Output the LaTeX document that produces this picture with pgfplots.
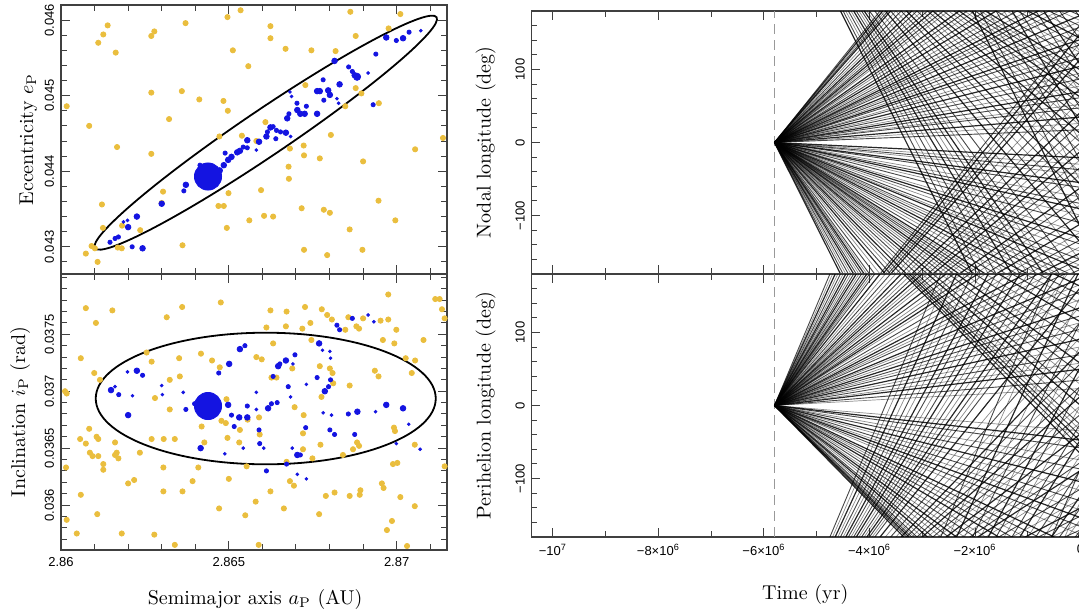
\documentclass[border=0pt]{standalone}
\usepackage{fontspec}
\usepackage{pgfplots}
\pgfplotsset{compat=1.18}
\newfontfamily\tf{Liberation Sans}
\definecolor{ylw}{RGB}{234,190,62}
\definecolor{blu}{RGB}{20,20,225}

\pgfplotsset{
  panel/.style={scale only axis, anchor=south west,
    axis line style={line width=0.7pt, black!75},
    tick style={black!75, line width=0.5pt},
    ticklabel style={font=\tf\fontsize{6.5}{7}\selectfont},
    yticklabel style={rotate=90, anchor=south},
    scaled ticks=false, clip=true},
  ydot/.style={ylw, only marks, mark=*, mark size=1.3pt},
  bdot/.style={blu, only marks, mark=*},
  traj/.style={black, line width=0.45pt, opacity=0.72},
  trajl/.style={black, line width=0.35pt, opacity=0.45},
  trajd/.style={black, line width=0.6pt, opacity=0.85},
  tzero/.style={gray!80, line width=0.9pt, dash pattern=on 5pt off 3pt},
}

\begin{document}
\begin{tikzpicture}
\useasboundingbox (0,0) rectangle (539.5pt,307pt);

% ---------- eccentricity vs semimajor axis
\begin{axis}[panel, at={(30.5pt,170pt)}, width=193pt, height=134.5pt,
  xmin=2.86, xmax=2.8715, ymin=0.04264, ymax=0.0462,
  xtick={2.86,2.865,2.87}, xticklabels={},
  minor xtick={2.861,2.862,2.863,2.864,2.866,2.867,2.868,2.869,2.871},
  ytick={0.043,0.044,0.045,0.046}, yticklabels={0.043,0.044,0.045,0.046},
  minor ytick={0.0428,0.0432,0.0434,0.0436,0.0438,0.0442,0.0444,0.0446,0.0448,0.0452,0.0454,0.0456,0.0458},
  ylabel={Eccentricity $e_\mathrm{P}$},
  ylabel style={at={(axis description cs:-0.0725,0.5)}, anchor=base}]
\addplot[ydot] coordinates {
(2.86017,0.04486)(2.86084,0.04460)(2.86111,0.04570)(2.86126,0.04581)(2.86139,0.04593)
(2.86163,0.04557)(2.86167,0.04432)(2.86269,0.04423)(2.86269,0.04504)(2.86269,0.04579)
(2.86278,0.04585)(2.86322,0.04469)(2.86360,0.04506)(2.86371,0.04596)(2.86412,0.04495)
(2.86472,0.04446)(2.86484,0.04493)(2.86496,0.04604)(2.86497,0.04480)(2.86512,0.04560)
(2.86535,0.04613)(2.86539,0.04447)(2.86558,0.04539)(2.86582,0.04440)(2.86609,0.04465)
(2.86624,0.04592)(2.86624,0.04576)(2.86669,0.04562)(2.86682,0.04430)(2.86678,0.04406)
(2.86679,0.04390)(2.86723,0.04434)(2.86724,0.04421)(2.86728,0.04514)(2.86746,0.04560)
(2.86771,0.04417)(2.86804,0.04448)(2.86818,0.04559)(2.86847,0.04486)(2.86862,0.04611)
(2.86878,0.04579)(2.86878,0.04510)(2.86895,0.04503)(2.86900,0.04413)(2.86947,0.04490)
(2.86976,0.04589)(2.87011,0.04608)(2.87055,0.04429)(2.87138,0.04444)(2.86996,0.04335)
(2.86946,0.04361)(2.86860,0.04323)(2.86898,0.04296)(2.86801,0.04345)(2.86783,0.04349)
(2.86793,0.04289)(2.86724,0.04296)(2.86717,0.04351)(2.86632,0.04340)(2.86605,0.04341)
(2.86596,0.04375)(2.86561,0.04335)(2.86499,0.04371)(2.86494,0.04325)(2.86485,0.04354)
(2.86469,0.04354)(2.86362,0.04302)(2.86304,0.04373)(2.86300,0.04358)(2.86236,0.04322)
(2.86181,0.04298)(2.86169,0.04299)(2.86122,0.04356)(2.86125,0.04325)(2.86091,0.04301)
(2.86074,0.04291)(2.86101,0.04298)(2.86109,0.04280)(2.86172,0.04262)(2.86182,0.04328)
};
\addplot[bdot, mark size=0.7pt] coordinates {
(2.86186,0.04333)(2.86198,0.04335)(2.86582,0.04428)(2.86684,0.04446)(2.86682,0.04505)
(2.86687,0.04499)(2.86822,0.04496)(2.86827,0.04490)(2.86915,0.04530)(2.87072,0.04586)
};
\addplot[bdot, mark size=1.05pt] coordinates {
(2.86146,0.04306)(2.86161,0.04311)(2.86171,0.04313)(2.86212,0.04300)(2.86366,0.04374)
(2.86414,0.04408)(2.86489,0.04424)(2.86543,0.04432)(2.86555,0.04431)(2.86632,0.04459)
(2.86615,0.04452)(2.86640,0.04443)(2.86642,0.04454)(2.86654,0.04452)(2.86679,0.04476)
(2.86703,0.04490)(2.86731,0.04486)(2.86781,0.04521)(2.86783,0.04494)(2.86857,0.04538)
(2.86868,0.04532)(2.86930,0.04488)(2.86938,0.04555)(2.86999,0.04573)(2.87037,0.04584)
};
\addplot[bdot, mark size=1.4pt] coordinates {
(2.86200,0.04326)(2.86226,0.04340)(2.86243,0.04298)(2.86300,0.04357)(2.86372,0.04382)
(2.86473,0.04401)(2.86485,0.04408)(2.86498,0.04415)(2.86508,0.04419)(2.86525,0.04425)
(2.86533,0.04427)(2.86555,0.04441)(2.86590,0.04439)(2.86612,0.04446)(2.86624,0.04458)
(2.86670,0.04451)(2.86674,0.04470)(2.86704,0.04481)(2.86713,0.04476)(2.86726,0.04476)
(2.86763,0.04476)(2.86763,0.04506)(2.86771,0.04506)(2.86796,0.04507)(2.86801,0.04501)
(2.86815,0.04546)(2.86830,0.04515)(2.86875,0.04527)(2.86969,0.04577)(2.87019,0.04576)
};
\addplot[bdot, mark size=1.8pt] coordinates {(2.86882,0.04525)};
\addplot[bdot, mark size=6.8pt] coordinates {(2.86438,0.04393)};
\draw[black, line width=0.9pt] (axis cs:2.8661,0.04451) ellipse [x radius=103.1pt, y radius=11.4pt, rotate=34.06];
\end{axis}

% ---------- inclination vs semimajor axis
\begin{axis}[panel, at={(30.5pt,32pt)}, width=193pt, height=138pt,
  xmin=2.86, xmax=2.8715, ymin=0.035605, ymax=0.03803,
  xtick={2.86,2.865,2.87}, xticklabels={2.86,2.865,2.87},
  minor xtick={2.861,2.862,2.863,2.864,2.866,2.867,2.868,2.869,2.871},
  ytick={0.036,0.0365,0.037,0.0375}, yticklabels={0.036,0.0365,0.037,0.0375},
  minor ytick={0.0357,0.0358,0.0359,0.0361,0.0362,0.0363,0.0364,0.0366,0.0367,0.0368,0.0369,0.0371,0.0372,0.0373,0.0374,0.0376,0.0377,0.0378,0.0379,0.0380},
  ylabel={Inclination $i_\mathrm{P}$ (rad)},
  ylabel style={at={(axis description cs:-0.093,0.5)}, anchor=base},
  xlabel={Semimajor axis $a_\mathrm{P}$ (AU)},
  xlabel style={at={(axis description cs:0.503,-0.196)}, anchor=base}]
\addplot[ydot] coordinates {
(2.86074,0.03773)(2.86104,0.03760)(2.86153,0.03771)(2.86315,0.03765)(2.86361,0.03774)
(2.86476,0.03778)(2.86624,0.03771)(2.86672,0.03770)(2.86727,0.03774)(2.86777,0.03772)
(2.86793,0.03767)(2.86807,0.03763)(2.86743,0.03760)(2.86856,0.03765)(2.86900,0.03764)
(2.86880,0.03757)(2.86888,0.03755)(2.86975,0.03785)(2.86975,0.03763)(2.87115,0.03781)
(2.87128,0.03781)(2.87135,0.03772)(2.87143,0.03764)(2.86999,0.03754)(2.86952,0.03762)
(2.86612,0.03756)(2.86670,0.03757)(2.86719,0.03755)(2.86847,0.03754)(2.86059,0.03729)
(2.86099,0.03716)(2.86270,0.03726)(2.86352,0.03729)(2.86417,0.03733)(2.86450,0.03727)
(2.86473,0.03721)(2.86582,0.03730)(2.86598,0.03728)(2.86627,0.03712)(2.86632,0.03742)
(2.86689,0.03720)(2.86746,0.03745)(2.86771,0.03722)(2.86801,0.03720)(2.86959,0.03745)
(2.86993,0.03742)(2.87027,0.03729)(2.87055,0.03727)(2.87080,0.03745)(2.87045,0.03716)
(2.86935,0.03718)(2.86946,0.03713)(2.86860,0.03705)(2.86012,0.03700)(2.86017,0.03698)
(2.86280,0.03694)(2.86324,0.03710)(2.86354,0.03713)(2.86324,0.03684)(2.86493,0.03693)
(2.86478,0.03674)(2.86491,0.03672)(2.86556,0.03675)(2.86590,0.03677)(2.86642,0.03712)
(2.86696,0.03686)(2.86776,0.03695)(2.86809,0.03716)(2.86811,0.03707)(2.86723,0.03679)
(2.86992,0.03668)(2.86995,0.03665)(2.86084,0.03667)(2.86106,0.03660)(2.86111,0.03658)
(2.86057,0.03658)(2.86074,0.03654)(2.86086,0.03646)(2.86094,0.03643)(2.86111,0.03643)
(2.86161,0.03655)(2.86161,0.03644)(2.86166,0.03646)(2.86171,0.03641)(2.86126,0.03636)
(2.86126,0.03631)(2.86015,0.03633)(2.86235,0.03646)(2.86270,0.03658)(2.86306,0.03658)
(2.86339,0.03658)(2.86419,0.03669)(2.86427,0.03655)(2.86496,0.03659)(2.86531,0.03655)
(2.86721,0.03663)(2.86773,0.03653)(2.86749,0.03641)(2.86721,0.03649)(2.86840,0.03644)
(2.86870,0.03649)(2.86882,0.03655)(2.86888,0.03652)(2.87054,0.03653)(2.87143,0.03634)
(2.87002,0.03637)(2.86989,0.03636)(2.86059,0.03609)(2.86017,0.03587)(2.86047,0.03575)
(2.86108,0.03592)(2.86181,0.03575)(2.86200,0.03619)(2.86218,0.03622)(2.86278,0.03574)
(2.86305,0.03612)(2.86305,0.03633)(2.86362,0.03612)(2.86392,0.03621)(2.86409,0.03633)
(2.86500,0.03623)(2.86471,0.03597)(2.86549,0.03591)(2.86580,0.03603)(2.86589,0.03565)
(2.86553,0.03634)(2.86624,0.03612)(2.86664,0.03597)(2.86672,0.03638)(2.86682,0.03621)
(2.86694,0.03617)(2.86769,0.03592)(2.86789,0.03608)(2.86815,0.03611)(2.86860,0.03608)
(2.86890,0.03609)(2.86892,0.03613)(2.86956,0.03619)(2.86961,0.03615)(2.86971,0.03578)
(2.86986,0.03586)(2.87011,0.03607)(2.87054,0.03599)(2.87031,0.03564)(2.86339,0.03565)
(2.86255,0.03734)(2.86116,0.03710)(2.86533,0.03666)(2.86592,0.03662)
};
\addplot[bdot, mark size=0.7pt] coordinates {
(2.86161,0.03704)(2.86213,0.03696)(2.86198,0.03717)(2.86300,0.03705)(2.86302,0.03697)
(2.86364,0.03699)(2.86488,0.03645)(2.86543,0.03650)(2.86582,0.03684)(2.86582,0.03699)
(2.86604,0.03650)(2.86691,0.03724)(2.86684,0.03695)(2.86689,0.03650)(2.86704,0.03627)
(2.86731,0.03623)(2.86731,0.03706)(2.86779,0.03736)(2.86803,0.03729)(2.86801,0.03735)
(2.86781,0.03681)(2.86806,0.03679)(2.86915,0.03767)(2.86932,0.03761)(2.86937,0.03682)
(2.86999,0.03654)(2.87036,0.03671)(2.87070,0.03649)
};
\addplot[bdot, mark size=1.05pt] coordinates {
(2.86172,0.03697)(2.86243,0.03714)(2.86372,0.03684)(2.86398,0.03689)(2.86470,0.03716)
(2.86508,0.03679)(2.86516,0.03669)(2.86548,0.03740)(2.86555,0.03687)(2.86590,0.03666)
(2.86592,0.03654)(2.86612,0.03630)(2.86627,0.03689)(2.86632,0.03713)(2.86652,0.03724)
(2.86697,0.03732)(2.86644,0.03690)(2.86677,0.03704)(2.86672,0.03636)(2.86713,0.03644)
(2.86729,0.03668)(2.86763,0.03712)(2.86797,0.03704)(2.86803,0.03710)(2.86801,0.03666)
(2.86815,0.03662)(2.86822,0.03758)(2.86830,0.03754)(2.86868,0.03764)(2.86856,0.03680)
(2.86875,0.03662)
};
\addplot[bdot, mark size=1.4pt] coordinates {
(2.86149,0.03701)(2.86200,0.03679)(2.86226,0.03718)(2.86416,0.03650)(2.86501,0.03724)
(2.86498,0.03688)(2.86531,0.03677)(2.86533,0.03737)(2.86555,0.03677)(2.86617,0.03685)
(2.86647,0.03722)(2.86670,0.03727)(2.86704,0.03644)(2.86769,0.03742)(2.86786,0.03700)
(2.86883,0.03682)(2.86969,0.03688)(2.87019,0.03685)
};
\addplot[bdot, mark size=6.8pt] coordinates {(2.86438,0.03687)};
\draw[black, line width=0.9pt] (axis cs:2.8661,0.036936) ellipse [x radius=85pt, y radius=32.9pt];
\end{axis}

% ---------- nodal longitude vs time
\begin{axis}[panel, at={(265.85pt,170pt)}, width=285pt, height=131.5pt,
  xmin=-10.4e6, xmax=0.4e6, ymin=-180, ymax=180, unbounded coords=jump,
  xtick={-1e7,-8e6,-6e6,-4e6,-2e6,0}, xticklabels={},
  minor xtick={-9e6,-7e6,-5e6,-3e6,-1e6},
  ytick={-100,0,100}, yticklabels={−100,0,100},
  minor ytick={-160,-140,-120,-80,-60,-40,-20,20,40,60,80,120,140,160},
  ylabel={Nodal longitude (deg)},
  ylabel style={at={(axis description cs:-0.072,0.5)}, anchor=base}]
\addplot[tzero] coordinates {(-5.8e6,-180)(-5.8e6,180)};
% decreasing angle
\addplot[trajd] coordinates {(-5.8e6,0)(-4.55e6,-180)(-4.55e6,nan)(-4.55e6,180)(-2.05e6,-180)(-2.05e6,nan)(-2.05e6,180)(0.45e6,-180)};
\addplot[traj] coordinates {(-5.8e6,0)(-4.5e6,-180)(-4.5e6,nan)(-4.5e6,180)(-1.9e6,-180)(-1.9e6,nan)(-1.9e6,180)(0.7e6,-180)};
\addplot[trajl] coordinates {(-5.8e6,0)(-4.45e6,-180)(-4.45e6,nan)(-4.45e6,180)(-1.75e6,-180)(-1.75e6,nan)(-1.75e6,180)(0.95e6,-180)};
\addplot[traj] coordinates {(-5.8e6,0)(-4.4e6,-180)(-4.4e6,nan)(-4.4e6,180)(-1.6e6,-180)(-1.6e6,nan)(-1.6e6,180)(1.2e6,-180)};
\addplot[trajl] coordinates {(-5.8e6,0)(-4.35e6,-180)(-4.35e6,nan)(-4.35e6,180)(-1.45e6,-180)(-1.45e6,nan)(-1.45e6,180)(1.45e6,-180)};
\addplot[trajd] coordinates {(-5.8e6,0)(-4.3e6,-180)(-4.3e6,nan)(-4.3e6,180)(-1.3e6,-180)(-1.3e6,nan)(-1.3e6,180)(1.7e6,-180)};
\addplot[traj] coordinates {(-5.8e6,0)(-4.25e6,-180)(-4.25e6,nan)(-4.25e6,180)(-1.15e6,-180)(-1.15e6,nan)(-1.15e6,180)(1.95e6,-180)};
\addplot[trajl] coordinates {(-5.8e6,0)(-4.2e6,-180)(-4.2e6,nan)(-4.2e6,180)(-1.0e6,-180)(-1.0e6,nan)(-1.0e6,180)(2.2e6,-180)};
\addplot[traj] coordinates {(-5.8e6,0)(-4.15e6,-180)(-4.15e6,nan)(-4.15e6,180)(-0.85e6,-180)(-0.85e6,nan)(-0.85e6,180)(2.45e6,-180)};
\addplot[trajd] coordinates {(-5.8e6,0)(-4.1e6,-180)(-4.1e6,nan)(-4.1e6,180)(-0.7e6,-180)(-0.7e6,nan)(-0.7e6,180)(2.7e6,-180)};
\addplot[trajl] coordinates {(-5.8e6,0)(-4.05e6,-180)(-4.05e6,nan)(-4.05e6,180)(-0.55e6,-180)(-0.55e6,nan)(-0.55e6,180)(2.95e6,-180)};
\addplot[traj] coordinates {(-5.8e6,0)(-4.0e6,-180)(-4.0e6,nan)(-4.0e6,180)(-0.4e6,-180)(-0.4e6,nan)(-0.4e6,180)(3.2e6,-180)};
\addplot[traj] coordinates {(-5.8e6,0)(-3.9e6,-180)(-3.9e6,nan)(-3.9e6,180)(-0.1e6,-180)(-0.1e6,nan)(-0.1e6,180)(3.7e6,-180)};
\addplot[trajl] coordinates {(-5.8e6,0)(-3.8e6,-180)(-3.8e6,nan)(-3.8e6,180)(0.2e6,-180)};
\addplot[trajd] coordinates {(-5.8e6,0)(-3.7e6,-180)(-3.7e6,nan)(-3.7e6,180)(0.5e6,-180)};
\addplot[traj] coordinates {(-5.8e6,0)(-3.6e6,-180)(-3.6e6,nan)(-3.6e6,180)(0.8e6,-180)};
\addplot[trajl] coordinates {(-5.8e6,0)(-3.5e6,-180)(-3.5e6,nan)(-3.5e6,180)(1.1e6,-180)};
\addplot[traj] coordinates {(-5.8e6,0)(-3.4e6,-180)(-3.4e6,nan)(-3.4e6,180)(1.4e6,-180)};
\addplot[trajd] coordinates {(-5.8e6,0)(-3.3e6,-180)(-3.3e6,nan)(-3.3e6,180)(1.7e6,-180)};
\addplot[trajl] coordinates {(-5.8e6,0)(-3.2e6,-180)(-3.2e6,nan)(-3.2e6,180)(2.0e6,-180)};
\addplot[traj] coordinates {(-5.8e6,0)(-3.1e6,-180)(-3.1e6,nan)(-3.1e6,180)(2.3e6,-180)};
\addplot[trajl] coordinates {(-5.8e6,0)(-3.0e6,-180)(-3.0e6,nan)(-3.0e6,180)(2.6e6,-180)};
\addplot[traj] coordinates {(-5.8e6,0)(-2.9e6,-180)(-2.9e6,nan)(-2.9e6,180)(2.9e6,-180)};
\addplot[trajd] coordinates {(-5.8e6,0)(-2.8e6,-180)(-2.8e6,nan)(-2.8e6,180)(3.2e6,-180)};
\addplot[trajl] coordinates {(-5.8e6,0)(-2.7e6,-180)(-2.7e6,nan)(-2.7e6,180)(3.5e6,-180)};
\addplot[traj] coordinates {(-5.8e6,0)(-2.6e6,-180)(-2.6e6,nan)(-2.6e6,180)(3.8e6,-180)};
\addplot[trajl] coordinates {(-5.8e6,0)(-2.5e6,-180)(-2.5e6,nan)(-2.5e6,180)(4.1e6,-180)};
\addplot[traj] coordinates {(-5.8e6,0)(-2.4e6,-180)(-2.4e6,nan)(-2.4e6,180)(4.4e6,-180)};
\addplot[trajd] coordinates {(-5.8e6,0)(-2.3e6,-180)(-2.3e6,nan)(-2.3e6,180)(4.7e6,-180)};
\addplot[trajl] coordinates {(-5.8e6,0)(-2.2e6,-180)(-2.2e6,nan)(-2.2e6,180)(5.0e6,-180)};
\addplot[traj] coordinates {(-5.8e6,0)(-2.1e6,-180)(-2.1e6,nan)(-2.1e6,180)(5.3e6,-180)};
\addplot[traj] coordinates {(-5.8e6,0)(-2.0e6,-180)(-2.0e6,nan)(-2.0e6,180)(5.6e6,-180)};
\addplot[trajl] coordinates {(-5.8e6,0)(-1.9e6,-180)(-1.9e6,nan)(-1.9e6,180)(5.9e6,-180)};
\addplot[trajd] coordinates {(-5.8e6,0)(-1.8e6,-180)(-1.8e6,nan)(-1.8e6,180)(6.2e6,-180)};
\addplot[traj] coordinates {(-5.8e6,0)(-1.6e6,-180)(-1.6e6,nan)(-1.6e6,180)(6.8e6,-180)};
\addplot[trajl] coordinates {(-5.8e6,0)(-1.4e6,-180)(-1.4e6,nan)(-1.4e6,180)(7.4e6,-180)};
\addplot[traj] coordinates {(-5.8e6,0)(-1.2e6,-180)(-1.2e6,nan)(-1.2e6,180)(8.0e6,-180)};
\addplot[trajd] coordinates {(-5.8e6,0)(-1.0e6,-180)(-1.0e6,nan)(-1.0e6,180)(8.6e6,-180)};
\addplot[trajl] coordinates {(-5.8e6,0)(-0.8e6,-180)(-0.8e6,nan)(-0.8e6,180)(9.2e6,-180)};
\addplot[traj] coordinates {(-5.8e6,0)(-0.6e6,-180)(-0.6e6,nan)(-0.6e6,180)(9.8e6,-180)};
\addplot[trajl] coordinates {(-5.8e6,0)(-0.4e6,-180)(-0.4e6,nan)(-0.4e6,180)(10.4e6,-180)};
\addplot[traj] coordinates {(-5.8e6,0)(-0.2e6,-180)(-0.2e6,nan)(-0.2e6,180)(11.0e6,-180)};
\addplot[trajd] coordinates {(-5.8e6,0)(0.2e6,-180)};
\addplot[trajl] coordinates {(-5.8e6,0)(0.4e6,-180)};
\addplot[traj] coordinates {(-5.8e6,0)(0.7e6,-180)};
\addplot[trajl] coordinates {(-5.8e6,0)(1.2e6,-180)};
\addplot[traj] coordinates {(-5.8e6,0)(1.7e6,-180)};
\addplot[trajd] coordinates {(-5.8e6,0)(2.2e6,-180)};
\addplot[trajl] coordinates {(-5.8e6,0)(2.7e6,-180)};
\addplot[traj] coordinates {(-5.8e6,0)(3.7e6,-180)};
\addplot[trajl] coordinates {(-5.8e6,0)(4.7e6,-180)};
\addplot[trajd] coordinates {(-5.8e6,0)(5.7e6,-180)};
\addplot[traj] coordinates {(-5.8e6,0)(6.7e6,-180)};
\addplot[trajl] coordinates {(-5.8e6,0)(8.2e6,-180)};
\addplot[traj] coordinates {(-5.8e6,0)(11.2e6,-180)};
\addplot[trajd] coordinates {(-5.8e6,0)(13.2e6,-180)};
\addplot[trajl] coordinates {(-5.8e6,0)(18.2e6,-180)};
\addplot[traj] coordinates {(-5.8e6,0)(22.2e6,-180)};
\addplot[trajl] coordinates {(-5.8e6,0)(29.2e6,-180)};
\addplot[trajd] coordinates {(-5.8e6,0)(44.2e6,-180)};
% increasing angle
\addplot[traj] coordinates {(-5.8e6,0)(-3.8e6,180)(-3.8e6,nan)(-3.8e6,-180)(0.2e6,180)};
\addplot[trajd] coordinates {(-5.8e6,0)(-3.75e6,180)(-3.75e6,nan)(-3.75e6,-180)(0.35e6,180)};
\addplot[trajl] coordinates {(-5.8e6,0)(-3.7e6,180)(-3.7e6,nan)(-3.7e6,-180)(0.5e6,180)};
\addplot[traj] coordinates {(-5.8e6,0)(-3.65e6,180)(-3.65e6,nan)(-3.65e6,-180)(0.65e6,180)};
\addplot[trajd] coordinates {(-5.8e6,0)(-3.6e6,180)(-3.6e6,nan)(-3.6e6,-180)(0.8e6,180)};
\addplot[trajl] coordinates {(-5.8e6,0)(-3.5e6,180)(-3.5e6,nan)(-3.5e6,-180)(1.1e6,180)};
\addplot[traj] coordinates {(-5.8e6,0)(-3.4e6,180)(-3.4e6,nan)(-3.4e6,-180)(1.4e6,180)};
\addplot[trajl] coordinates {(-5.8e6,0)(-3.3e6,180)(-3.3e6,nan)(-3.3e6,-180)(1.7e6,180)};
\addplot[trajd] coordinates {(-5.8e6,0)(-3.2e6,180)(-3.2e6,nan)(-3.2e6,-180)(2.0e6,180)};
\addplot[traj] coordinates {(-5.8e6,0)(-3.1e6,180)(-3.1e6,nan)(-3.1e6,-180)(2.3e6,180)};
\addplot[trajl] coordinates {(-5.8e6,0)(-3.0e6,180)(-3.0e6,nan)(-3.0e6,-180)(2.6e6,180)};
\addplot[traj] coordinates {(-5.8e6,0)(-2.9e6,180)(-2.9e6,nan)(-2.9e6,-180)(2.9e6,180)};
\addplot[trajd] coordinates {(-5.8e6,0)(-2.8e6,180)(-2.8e6,nan)(-2.8e6,-180)(3.2e6,180)};
\addplot[trajl] coordinates {(-5.8e6,0)(-2.7e6,180)(-2.7e6,nan)(-2.7e6,-180)(3.5e6,180)};
\addplot[traj] coordinates {(-5.8e6,0)(-2.6e6,180)(-2.6e6,nan)(-2.6e6,-180)(3.8e6,180)};
\addplot[trajl] coordinates {(-5.8e6,0)(-2.5e6,180)(-2.5e6,nan)(-2.5e6,-180)(4.1e6,180)};
\addplot[trajd] coordinates {(-5.8e6,0)(-2.3e6,180)(-2.3e6,nan)(-2.3e6,-180)(4.7e6,180)};
\addplot[traj] coordinates {(-5.8e6,0)(-2.15e6,180)(-2.15e6,nan)(-2.15e6,-180)(5.15e6,180)};
\addplot[trajl] coordinates {(-5.8e6,0)(-2.0e6,180)(-2.0e6,nan)(-2.0e6,-180)(5.6e6,180)};
\addplot[traj] coordinates {(-5.8e6,0)(-1.8e6,180)(-1.8e6,nan)(-1.8e6,-180)(6.2e6,180)};
\addplot[trajd] coordinates {(-5.8e6,0)(-1.6e6,180)(-1.6e6,nan)(-1.6e6,-180)(6.8e6,180)};
\addplot[trajl] coordinates {(-5.8e6,0)(-1.4e6,180)(-1.4e6,nan)(-1.4e6,-180)(7.4e6,180)};
\addplot[traj] coordinates {(-5.8e6,0)(-1.2e6,180)(-1.2e6,nan)(-1.2e6,-180)(8.0e6,180)};
\addplot[trajl] coordinates {(-5.8e6,0)(-1.0e6,180)(-1.0e6,nan)(-1.0e6,-180)(8.6e6,180)};
\addplot[trajd] coordinates {(-5.8e6,0)(-0.8e6,180)(-0.8e6,nan)(-0.8e6,-180)(9.2e6,180)};
\addplot[traj] coordinates {(-5.8e6,0)(-0.6e6,180)(-0.6e6,nan)(-0.6e6,-180)(9.8e6,180)};
\addplot[trajl] coordinates {(-5.8e6,0)(-0.4e6,180)(-0.4e6,nan)(-0.4e6,-180)(10.4e6,180)};
\addplot[traj] coordinates {(-5.8e6,0)(-0.2e6,180)(-0.2e6,nan)(-0.2e6,-180)(11.0e6,180)};
\addplot[trajd] coordinates {(-5.8e6,0)(0.2e6,180)};
\addplot[trajl] coordinates {(-5.8e6,0)(0.5e6,180)};
\addplot[traj] coordinates {(-5.8e6,0)(0.8e6,180)};
\addplot[trajl] coordinates {(-5.8e6,0)(1.2e6,180)};
\addplot[trajd] coordinates {(-5.8e6,0)(1.6e6,180)};
\addplot[traj] coordinates {(-5.8e6,0)(2.0e6,180)};
\addplot[trajl] coordinates {(-5.8e6,0)(2.7e6,180)};
\addplot[traj] coordinates {(-5.8e6,0)(3.2e6,180)};
\addplot[trajd] coordinates {(-5.8e6,0)(4.2e6,180)};
\addplot[trajl] coordinates {(-5.8e6,0)(5.2e6,180)};
\addplot[traj] coordinates {(-5.8e6,0)(6.2e6,180)};
\addplot[trajl] coordinates {(-5.8e6,0)(7.7e6,180)};
\addplot[trajd] coordinates {(-5.8e6,0)(9.2e6,180)};
\addplot[traj] coordinates {(-5.8e6,0)(11.2e6,180)};
\addplot[trajl] coordinates {(-5.8e6,0)(14.2e6,180)};
\addplot[traj] coordinates {(-5.8e6,0)(16.2e6,180)};
\addplot[trajd] coordinates {(-5.8e6,0)(24.2e6,180)};
\addplot[trajl] coordinates {(-5.8e6,0)(34.2e6,180)};
\addplot[traj] coordinates {(-5.8e6,0)(54.2e6,180)};
\end{axis}

% ---------- perihelion longitude vs time
\begin{axis}[panel, at={(265.85pt,38.5pt)}, width=285pt, height=131.5pt,
  xmin=-10.4e6, xmax=0.4e6, ymin=-180, ymax=180, unbounded coords=jump,
  xtick={-1e7,-8e6,-6e6,-4e6,-2e6,0},
  xticklabels={−10\textsuperscript{7},−8×10\textsuperscript{6},−6×10\textsuperscript{6},−4×10\textsuperscript{6},−2×10\textsuperscript{6},0},
  minor xtick={-9e6,-7e6,-5e6,-3e6,-1e6},
  ytick={-100,0,100}, yticklabels={−100,0,100},
  minor ytick={-160,-140,-120,-80,-60,-40,-20,20,40,60,80,120,140,160},
  ylabel={Perihelion longitude (deg)},
  ylabel style={at={(axis description cs:-0.072,0.5)}, anchor=base},
  xlabel={Time (yr)},
  xlabel style={at={(axis description cs:0.48,-0.237)}, anchor=base}]
\addplot[tzero] coordinates {(-5.8e6,-180)(-5.8e6,180)};
% increasing angle
\addplot[traj] coordinates {(-5.8e6,0)(-4.75e6,180)(-4.75e6,nan)(-4.75e6,-180)(-2.65e6,180)(-2.65e6,nan)(-2.65e6,-180)(-0.55e6,180)(-0.55e6,nan)(-0.55e6,-180)(1.55e6,180)};
\addplot[trajl] coordinates {(-5.8e6,0)(-4.7e6,180)(-4.7e6,nan)(-4.7e6,-180)(-2.5e6,180)(-2.5e6,nan)(-2.5e6,-180)(-0.3e6,180)(-0.3e6,nan)(-0.3e6,-180)(1.9e6,180)};
\addplot[trajd] coordinates {(-5.8e6,0)(-4.65e6,180)(-4.65e6,nan)(-4.65e6,-180)(-2.35e6,180)(-2.35e6,nan)(-2.35e6,-180)(-0.05e6,180)(-0.05e6,nan)(-0.05e6,-180)(2.25e6,180)};
\addplot[trajl] coordinates {(-5.8e6,0)(-4.6e6,180)(-4.6e6,nan)(-4.6e6,-180)(-2.2e6,180)(-2.2e6,nan)(-2.2e6,-180)(0.2e6,180)};
\addplot[traj] coordinates {(-5.8e6,0)(-4.55e6,180)(-4.55e6,nan)(-4.55e6,-180)(-2.05e6,180)(-2.05e6,nan)(-2.05e6,-180)(0.45e6,180)};
\addplot[trajl] coordinates {(-5.8e6,0)(-4.5e6,180)(-4.5e6,nan)(-4.5e6,-180)(-1.9e6,180)(-1.9e6,nan)(-1.9e6,-180)(0.7e6,180)};
\addplot[trajd] coordinates {(-5.8e6,0)(-4.45e6,180)(-4.45e6,nan)(-4.45e6,-180)(-1.75e6,180)(-1.75e6,nan)(-1.75e6,-180)(0.95e6,180)};
\addplot[traj] coordinates {(-5.8e6,0)(-4.4e6,180)(-4.4e6,nan)(-4.4e6,-180)(-1.6e6,180)(-1.6e6,nan)(-1.6e6,-180)(1.2e6,180)};
\addplot[trajl] coordinates {(-5.8e6,0)(-4.35e6,180)(-4.35e6,nan)(-4.35e6,-180)(-1.45e6,180)(-1.45e6,nan)(-1.45e6,-180)(1.45e6,180)};
\addplot[traj] coordinates {(-5.8e6,0)(-4.3e6,180)(-4.3e6,nan)(-4.3e6,-180)(-1.3e6,180)(-1.3e6,nan)(-1.3e6,-180)(1.7e6,180)};
\addplot[trajd] coordinates {(-5.8e6,0)(-4.25e6,180)(-4.25e6,nan)(-4.25e6,-180)(-1.15e6,180)(-1.15e6,nan)(-1.15e6,-180)(1.95e6,180)};
\addplot[trajl] coordinates {(-5.8e6,0)(-4.2e6,180)(-4.2e6,nan)(-4.2e6,-180)(-1.0e6,180)(-1.0e6,nan)(-1.0e6,-180)(2.2e6,180)};
\addplot[traj] coordinates {(-5.8e6,0)(-4.15e6,180)(-4.15e6,nan)(-4.15e6,-180)(-0.85e6,180)(-0.85e6,nan)(-0.85e6,-180)(2.45e6,180)};
\addplot[trajl] coordinates {(-5.8e6,0)(-4.1e6,180)(-4.1e6,nan)(-4.1e6,-180)(-0.7e6,180)(-0.7e6,nan)(-0.7e6,-180)(2.7e6,180)};
\addplot[trajd] coordinates {(-5.8e6,0)(-4.05e6,180)(-4.05e6,nan)(-4.05e6,-180)(-0.55e6,180)(-0.55e6,nan)(-0.55e6,-180)(2.95e6,180)};
\addplot[traj] coordinates {(-5.8e6,0)(-4.0e6,180)(-4.0e6,nan)(-4.0e6,-180)(-0.4e6,180)(-0.4e6,nan)(-0.4e6,-180)(3.2e6,180)};
\addplot[trajl] coordinates {(-5.8e6,0)(-3.95e6,180)(-3.95e6,nan)(-3.95e6,-180)(-0.25e6,180)(-0.25e6,nan)(-0.25e6,-180)(3.45e6,180)};
\addplot[traj] coordinates {(-5.8e6,0)(-3.9e6,180)(-3.9e6,nan)(-3.9e6,-180)(-0.1e6,180)(-0.1e6,nan)(-0.1e6,-180)(3.7e6,180)};
\addplot[trajd] coordinates {(-5.8e6,0)(-3.8e6,180)(-3.8e6,nan)(-3.8e6,-180)(0.2e6,180)};
\addplot[trajl] coordinates {(-5.8e6,0)(-3.7e6,180)(-3.7e6,nan)(-3.7e6,-180)(0.5e6,180)};
\addplot[traj] coordinates {(-5.8e6,0)(-3.6e6,180)(-3.6e6,nan)(-3.6e6,-180)(0.8e6,180)};
\addplot[trajl] coordinates {(-5.8e6,0)(-3.5e6,180)(-3.5e6,nan)(-3.5e6,-180)(1.1e6,180)};
\addplot[trajd] coordinates {(-5.8e6,0)(-3.4e6,180)(-3.4e6,nan)(-3.4e6,-180)(1.4e6,180)};
\addplot[traj] coordinates {(-5.8e6,0)(-3.3e6,180)(-3.3e6,nan)(-3.3e6,-180)(1.7e6,180)};
\addplot[trajl] coordinates {(-5.8e6,0)(-3.2e6,180)(-3.2e6,nan)(-3.2e6,-180)(2.0e6,180)};
\addplot[traj] coordinates {(-5.8e6,0)(-3.1e6,180)(-3.1e6,nan)(-3.1e6,-180)(2.3e6,180)};
\addplot[trajd] coordinates {(-5.8e6,0)(-3.0e6,180)(-3.0e6,nan)(-3.0e6,-180)(2.6e6,180)};
\addplot[trajl] coordinates {(-5.8e6,0)(-2.9e6,180)(-2.9e6,nan)(-2.9e6,-180)(2.9e6,180)};
\addplot[traj] coordinates {(-5.8e6,0)(-2.8e6,180)(-2.8e6,nan)(-2.8e6,-180)(3.2e6,180)};
\addplot[trajl] coordinates {(-5.8e6,0)(-2.7e6,180)(-2.7e6,nan)(-2.7e6,-180)(3.5e6,180)};
\addplot[trajd] coordinates {(-5.8e6,0)(-2.55e6,180)(-2.55e6,nan)(-2.55e6,-180)(3.95e6,180)};
\addplot[traj] coordinates {(-5.8e6,0)(-2.4e6,180)(-2.4e6,nan)(-2.4e6,-180)(4.4e6,180)};
\addplot[trajl] coordinates {(-5.8e6,0)(-2.25e6,180)(-2.25e6,nan)(-2.25e6,-180)(4.85e6,180)};
\addplot[traj] coordinates {(-5.8e6,0)(-2.1e6,180)(-2.1e6,nan)(-2.1e6,-180)(5.3e6,180)};
\addplot[trajd] coordinates {(-5.8e6,0)(-1.95e6,180)(-1.95e6,nan)(-1.95e6,-180)(5.75e6,180)};
\addplot[trajl] coordinates {(-5.8e6,0)(-1.8e6,180)(-1.8e6,nan)(-1.8e6,-180)(6.2e6,180)};
\addplot[traj] coordinates {(-5.8e6,0)(-1.55e6,180)(-1.55e6,nan)(-1.55e6,-180)(6.95e6,180)};
\addplot[trajl] coordinates {(-5.8e6,0)(-1.3e6,180)(-1.3e6,nan)(-1.3e6,-180)(7.7e6,180)};
\addplot[trajd] coordinates {(-5.8e6,0)(-1.05e6,180)(-1.05e6,nan)(-1.05e6,-180)(8.45e6,180)};
\addplot[traj] coordinates {(-5.8e6,0)(-0.8e6,180)(-0.8e6,nan)(-0.8e6,-180)(9.2e6,180)};
\addplot[trajl] coordinates {(-5.8e6,0)(-0.55e6,180)(-0.55e6,nan)(-0.55e6,-180)(9.95e6,180)};
\addplot[traj] coordinates {(-5.8e6,0)(-0.3e6,180)(-0.3e6,nan)(-0.3e6,-180)(10.7e6,180)};
\addplot[trajd] coordinates {(-5.8e6,0)(0.2e6,180)};
\addplot[trajl] coordinates {(-5.8e6,0)(0.5e6,180)};
\addplot[traj] coordinates {(-5.8e6,0)(0.9e6,180)};
\addplot[trajl] coordinates {(-5.8e6,0)(1.4e6,180)};
\addplot[trajd] coordinates {(-5.8e6,0)(2.0e6,180)};
\addplot[traj] coordinates {(-5.8e6,0)(2.7e6,180)};
\addplot[trajl] coordinates {(-5.8e6,0)(3.4e6,180)};
\addplot[traj] coordinates {(-5.8e6,0)(4.2e6,180)};
\addplot[trajd] coordinates {(-5.8e6,0)(5.7e6,180)};
\addplot[trajl] coordinates {(-5.8e6,0)(7.2e6,180)};
\addplot[traj] coordinates {(-5.8e6,0)(9.2e6,180)};
\addplot[trajl] coordinates {(-5.8e6,0)(12.2e6,180)};
\addplot[trajd] coordinates {(-5.8e6,0)(15.2e6,180)};
\addplot[traj] coordinates {(-5.8e6,0)(24.2e6,180)};
\addplot[trajl] coordinates {(-5.8e6,0)(39.2e6,180)};
% decreasing angle
\addplot[trajd] coordinates {(-5.8e6,0)(-3.35e6,-180)(-3.35e6,nan)(-3.35e6,180)(1.55e6,-180)};
\addplot[traj] coordinates {(-5.8e6,0)(-3.3e6,-180)(-3.3e6,nan)(-3.3e6,180)(1.7e6,-180)};
\addplot[trajd] coordinates {(-5.8e6,0)(-3.25e6,-180)(-3.25e6,nan)(-3.25e6,180)(1.85e6,-180)};
\addplot[traj] coordinates {(-5.8e6,0)(-3.2e6,-180)(-3.2e6,nan)(-3.2e6,180)(2.0e6,-180)};
\addplot[trajl] coordinates {(-5.8e6,0)(-3.15e6,-180)(-3.15e6,nan)(-3.15e6,180)(2.15e6,-180)};
\addplot[traj] coordinates {(-5.8e6,0)(-3.1e6,-180)(-3.1e6,nan)(-3.1e6,180)(2.3e6,-180)};
\addplot[trajl] coordinates {(-5.8e6,0)(-3.0e6,-180)(-3.0e6,nan)(-3.0e6,180)(2.6e6,-180)};
\addplot[trajd] coordinates {(-5.8e6,0)(-2.9e6,-180)(-2.9e6,nan)(-2.9e6,180)(2.9e6,-180)};
\addplot[traj] coordinates {(-5.8e6,0)(-2.8e6,-180)(-2.8e6,nan)(-2.8e6,180)(3.2e6,-180)};
\addplot[trajl] coordinates {(-5.8e6,0)(-2.65e6,-180)(-2.65e6,nan)(-2.65e6,180)(3.65e6,-180)};
\addplot[traj] coordinates {(-5.8e6,0)(-2.5e6,-180)(-2.5e6,nan)(-2.5e6,180)(4.1e6,-180)};
\addplot[trajd] coordinates {(-5.8e6,0)(-2.35e6,-180)(-2.35e6,nan)(-2.35e6,180)(4.55e6,-180)};
\addplot[trajl] coordinates {(-5.8e6,0)(-2.2e6,-180)(-2.2e6,nan)(-2.2e6,180)(5.0e6,-180)};
\addplot[traj] coordinates {(-5.8e6,0)(-2.0e6,-180)(-2.0e6,nan)(-2.0e6,180)(5.6e6,-180)};
\addplot[trajl] coordinates {(-5.8e6,0)(-1.8e6,-180)(-1.8e6,nan)(-1.8e6,180)(6.2e6,-180)};
\addplot[trajd] coordinates {(-5.8e6,0)(-1.55e6,-180)(-1.55e6,nan)(-1.55e6,180)(6.95e6,-180)};
\addplot[traj] coordinates {(-5.8e6,0)(-1.3e6,-180)(-1.3e6,nan)(-1.3e6,180)(7.7e6,-180)};
\addplot[trajl] coordinates {(-5.8e6,0)(-1.05e6,-180)(-1.05e6,nan)(-1.05e6,180)(8.45e6,-180)};
\addplot[traj] coordinates {(-5.8e6,0)(-0.8e6,-180)(-0.8e6,nan)(-0.8e6,180)(9.2e6,-180)};
\addplot[trajd] coordinates {(-5.8e6,0)(-0.5e6,-180)(-0.5e6,nan)(-0.5e6,180)(10.1e6,-180)};
\addplot[trajl] coordinates {(-5.8e6,0)(0.1e6,-180)};
\addplot[traj] coordinates {(-5.8e6,0)(0.5e6,-180)};
\addplot[trajd] coordinates {(-5.8e6,0)(1.0e6,-180)};
\addplot[trajl] coordinates {(-5.8e6,0)(1.5e6,-180)};
\addplot[traj] coordinates {(-5.8e6,0)(2.2e6,-180)};
\addplot[trajl] coordinates {(-5.8e6,0)(3.2e6,-180)};
\addplot[trajd] coordinates {(-5.8e6,0)(4.2e6,-180)};
\addplot[traj] coordinates {(-5.8e6,0)(6.2e6,-180)};
\addplot[trajl] coordinates {(-5.8e6,0)(8.2e6,-180)};
\addplot[traj] coordinates {(-5.8e6,0)(12.2e6,-180)};
\addplot[trajd] coordinates {(-5.8e6,0)(16.2e6,-180)};
\addplot[trajl] coordinates {(-5.8e6,0)(24.2e6,-180)};
\end{axis}
\end{tikzpicture}
\end{document}
